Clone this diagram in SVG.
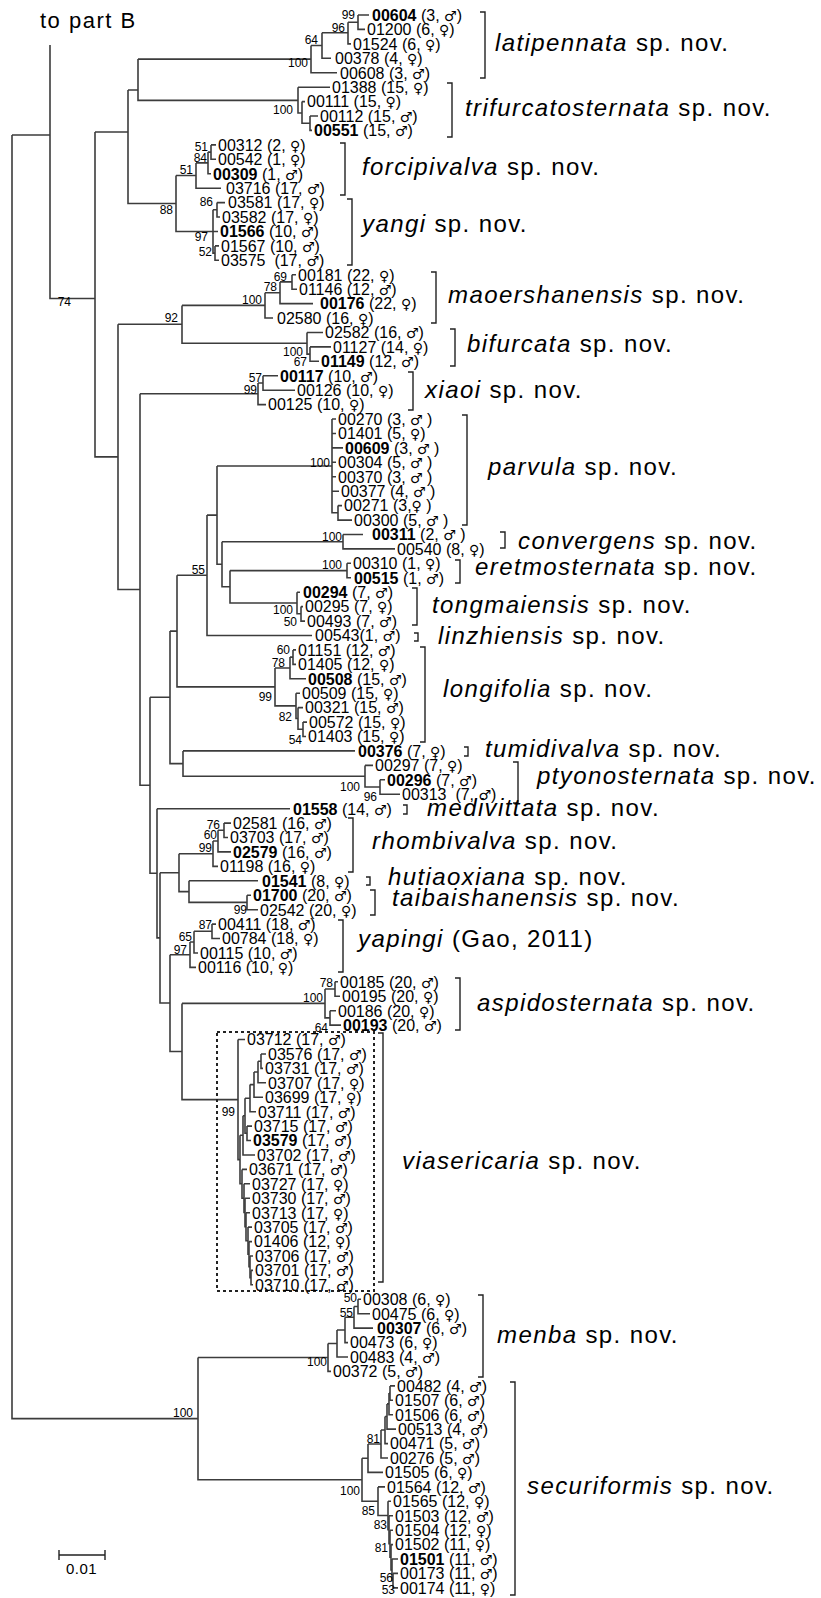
<svg xmlns="http://www.w3.org/2000/svg" width="821" height="1598" viewBox="0 0 821 1598">
<style>
.b{fill:none;stroke:#3c3c3c;stroke-width:1.6}
.br{fill:none;stroke:#222;stroke-width:1.4}
text{font-family:"Liberation Sans",Arial,sans-serif;fill:#000}
.t{font-size:16px}
.k{font-weight:bold}
.s{font-family:"DejaVu Sans",sans-serif;font-size:14px}
.bs{font-size:12px;text-anchor:end}
.sp{font-size:24px;letter-spacing:1.4px}
.i{font-style:italic}
.pre{white-space:pre}
</style>
<rect width="821" height="1598" fill="#fff"/>
<text x="40" y="28" style="font-size:22px;letter-spacing:1.5px">to part B</text>
<g id="connectors" class="b">
<path d="M12 135V1418.6H198M12 135H50"/>
<path d="M50 45V298.5H95"/>
<path d="M95 132V456.9H118M95 132H128"/>
<path d="M128 90V203.5H176M128 90H138"/>
<path d="M138 59.1V100.4H298M138 59.1H311"/>
<path d="M311 45.5V72.7H337M311 45.5H322"/>
<path d="M322 32.8V58.3H331M322 32.8H348"/>
<path d="M348 22.2V43.9H351M348 22.2H358"/>
<path d="M358 15V29.4H365M358 15H369"/>
<path d="M298 87.2V113H302M298 87.2H330"/>
<path d="M302 101.6V123.2H310M302 101.6H305"/>
<path d="M310 116V130.4H312M310 116H318"/>
<path d="M176 175.5V231.5H213M176 175.5H196"/>
<path d="M196 162.9V188.2H221M196 162.9H208"/>
<path d="M208 152.1V173.7H211M208 152.1H211"/>
<path d="M211 144.9V159.3H216M211 144.9H216"/>
<path d="M213 209.8V253.1H215M213 209.8H217M213 231.5H218"/>
<path d="M217 202.6V217H220M217 202.6H225"/>
<path d="M215 245.9V260.3H219M215 245.9H219"/>
<path d="M118 324.3V589.5H140M118 324.3H182"/>
<path d="M182 305.4V343.2H307M182 305.4H265"/>
<path d="M265 292.7V318H273M265 292.7H280"/>
<path d="M280 281.9V303.6H313M280 281.9H292"/>
<path d="M292 274.7V289.2H297M292 274.7H296"/>
<path d="M307 332.5V354.1H310M307 332.5H323"/>
<path d="M310 346.9V361.3H319M310 346.9H331"/>
<path d="M140 393.7V785.2H150M140 393.7H258"/>
<path d="M258 383V404.6H266M258 383H263"/>
<path d="M263 375.8V390.2H295M263 375.8H278"/>
<path d="M150 697.3V873.2H157M150 697.3H170"/>
<path d="M170 631.1V763.6H183M170 631.1H177"/>
<path d="M177 575.3V686.9H275M177 575.3H207"/>
<path d="M207 515.1V635.5H312M207 515.1H217"/>
<path d="M217 466V564.3H222M217 466H332"/>
<path d="M332 419V512.8H338M332 419H336M332 433.5H336M332 447.9H343M332 462.3H336M332 476.8H336M332 491.2H339"/>
<path d="M338 505.6V520.1H352M338 505.6H342"/>
<path d="M222 541.7V586.8H230M222 541.7H343"/>
<path d="M343 534.5V548.9H395M343 534.5H363"/>
<path d="M230 570.6V603H297M230 570.6H347"/>
<path d="M347 563.3V577.8H351M347 563.3H351"/>
<path d="M297 592.2V613.8H301M297 592.2H300"/>
<path d="M301 606.6V621.1H305M301 606.6H303"/>
<path d="M275 668V705.9H296M275 668H290"/>
<path d="M290 657.1V678.8H306M290 657.1H293"/>
<path d="M293 649.9V664.4H296M293 649.9H296"/>
<path d="M296 693.2V718.5H298M296 693.2H300"/>
<path d="M298 707.6V729.3H303M298 707.6H303"/>
<path d="M303 722.1V736.5H306M303 722.1H307"/>
<path d="M183 750.9V776.2H365M183 750.9H355"/>
<path d="M365 765.4V787H380M365 765.4H373"/>
<path d="M380 779.8V794.2H400M380 779.8H385"/>
<path d="M157 808.7V937.9H160M157 808.7H290"/>
<path d="M160 872.7V1003H170M160 872.7H179"/>
<path d="M179 853.7V891.6H189M179 853.7H213"/>
<path d="M213 841V866.4H218M213 841H218"/>
<path d="M218 830.3V851.9H231M218 830.3H224"/>
<path d="M224 823.1V837.5H228M224 823.1H231"/>
<path d="M189 880.8V902.4H247M189 880.8H258"/>
<path d="M247 895.2V909.7H258M247 895.2H251"/>
<path d="M170 954.7V1051.5H182M170 954.7H190"/>
<path d="M190 942V967.4H196M190 942H194"/>
<path d="M194 931.3V953H198M194 931.3H212"/>
<path d="M212 924.1V938.5H220M212 924.1H216"/>
<path d="M182 1003.4V1099.6H238M182 1003.4H325"/>
<path d="M325 989V1017.9H330M325 989H335"/>
<path d="M335 981.8V996.2H340M335 981.8H338"/>
<path d="M330 1010.7V1025.1H341M330 1010.7H336"/>
<path d="M238 1039.5V1159.6H240M238 1039.5H245"/>
<path d="M240 1135.3V1183.8H242M240 1135.3H243"/>
<path d="M243 1115.7V1155H255M243 1115.7H245"/>
<path d="M245 1098.2V1133.3H247M245 1098.2H250"/>
<path d="M247 1126.1V1140.5H251M247 1126.1H252"/>
<path d="M250 1084.6V1111.7H256M250 1084.6H254"/>
<path d="M254 1072V1097.3H263M254 1072H258"/>
<path d="M258 1061.2V1082.8H266M258 1061.2H261"/>
<path d="M261 1054V1068.4H263M261 1054H266"/>
<path d="M242 1169.4V1198.2H244M242 1169.4H247"/>
<path d="M244 1183.8V1212.5H245M244 1183.8H250"/>
<path d="M245 1198.3V1226.7H246M245 1198.3H250"/>
<path d="M246 1212.7V1240.7H248M246 1212.7H250"/>
<path d="M248 1227.1V1254.2H249M248 1227.1H252"/>
<path d="M249 1241.6V1266.8H250M249 1241.6H252"/>
<path d="M250 1256V1277.6H251M250 1256H253"/>
<path d="M251 1270.4V1284.8H253M251 1270.4H253"/>
<path d="M198 1357.5V1479.7H362M198 1357.5H328"/>
<path d="M328 1343.5V1371.4H331M328 1343.5H337"/>
<path d="M337 1330V1357H348M337 1330H345"/>
<path d="M345 1317.3V1342.6H348M345 1317.3H354"/>
<path d="M354 1306.5V1328.1H373M354 1306.5H358"/>
<path d="M358 1299.3V1313.7H370M358 1299.3H361"/>
<path d="M362 1458.2V1501.2H378M362 1458.2H368"/>
<path d="M368 1444V1472.4H383M368 1444H381"/>
<path d="M381 1430V1458H388M381 1430H385"/>
<path d="M385 1416.5V1443.6H388M385 1416.5H387"/>
<path d="M387 1403.9V1429.1H396M387 1403.9H389"/>
<path d="M389 1393.1V1414.7H393M389 1393.1H390"/>
<path d="M390 1385.9V1400.3H393M390 1385.9H395"/>
<path d="M378 1486.9V1515.5H388M378 1486.9H385"/>
<path d="M388 1501.3V1529.7H389M388 1501.3H391"/>
<path d="M389 1515.7V1543.7H390M389 1515.7H393"/>
<path d="M390 1530.2V1557.2H391M390 1530.2H393"/>
<path d="M391 1544.6V1569.9H392M391 1544.6H393"/>
<path d="M392 1559V1580.7H393M392 1559H398"/>
<path d="M393 1573.4V1587.9H398M393 1573.4H398"/>
</g>
<g id="bootstrap" class="bs">
<text class="bs" x="355" y="19">99</text>
<text class="bs" x="345" y="32">96</text>
<text class="bs" x="318" y="44">64</text>
<text class="bs" x="308" y="67">100</text>
<text class="bs" x="293" y="114">100</text>
<text class="bs" x="208" y="151">51</text>
<text class="bs" x="207" y="162">84</text>
<text class="bs" x="193" y="174">51</text>
<text class="bs" x="173" y="214">88</text>
<text class="bs" x="213" y="206">86</text>
<text class="bs" x="208" y="241">97</text>
<text class="bs" x="212" y="256">52</text>
<text class="bs" x="287" y="281">69</text>
<text class="bs" x="277" y="291">78</text>
<text class="bs" x="262" y="304">100</text>
<text class="bs" x="178" y="322">92</text>
<text class="bs" x="303" y="356">100</text>
<text class="bs" x="307" y="366">67</text>
<text class="bs" x="262" y="382">57</text>
<text class="bs" x="257" y="394">99</text>
<text class="bs" x="71" y="306">74</text>
<text class="bs" x="330" y="467">100</text>
<text class="bs" x="342" y="541">100</text>
<text class="bs" x="342" y="569">100</text>
<text class="bs" x="205" y="574">55</text>
<text class="bs" x="293" y="614">100</text>
<text class="bs" x="297" y="626">50</text>
<text class="bs" x="290" y="654">60</text>
<text class="bs" x="285" y="667">78</text>
<text class="bs" x="272" y="701">99</text>
<text class="bs" x="292" y="721">82</text>
<text class="bs" x="302" y="744">54</text>
<text class="bs" x="360" y="791">100</text>
<text class="bs" x="377" y="801">96</text>
<text class="bs" x="220" y="829">76</text>
<text class="bs" x="217" y="839">60</text>
<text class="bs" x="212" y="852">99</text>
<text class="bs" x="247" y="914">99</text>
<text class="bs" x="212" y="929">87</text>
<text class="bs" x="192" y="941">65</text>
<text class="bs" x="187" y="954">97</text>
<text class="bs" x="333" y="987">78</text>
<text class="bs" x="323" y="1002">100</text>
<text class="bs" x="328" y="1032">64</text>
<text class="bs" x="235" y="1116">99</text>
<text class="bs" x="357" y="1302">50</text>
<text class="bs" x="353" y="1317">55</text>
<text class="bs" x="327" y="1366">100</text>
<text class="bs" x="193" y="1417">100</text>
<text class="bs" x="380" y="1443">81</text>
<text class="bs" x="360" y="1495">100</text>
<text class="bs" x="375" y="1515">85</text>
<text class="bs" x="387" y="1529">83</text>
<text class="bs" x="388" y="1552">81</text>
<text class="bs" x="393" y="1582">56</text>
<text class="bs" x="395" y="1594">53</text>
</g>
<g id="latipennata">
<text class="t" x="372" y="20.8"><tspan class="k">00604</tspan> (3, <tspan class="s">♂</tspan>)</text>
<text class="t" x="367" y="35.2">01200 (6, <tspan class="s">♀</tspan>)</text>
<text class="t" x="353" y="49.7">01524 (6, <tspan class="s">♀</tspan>)</text>
<text class="t" x="335" y="64.1">00378 (4, <tspan class="s">♀</tspan>)</text>
<text class="t" x="340" y="78.5">00608 (3, <tspan class="s">♂</tspan>)</text>
<path class="br" d="M480 12H485V78H480"/>
<text class="sp" x="495" y="51"><tspan class="i">latipennata</tspan> sp. nov.</text>
</g>
<g id="trifurcatosternata">
<text class="t" x="332" y="93">01388 (15, <tspan class="s">♀</tspan>)</text>
<text class="t" x="307" y="107.4">00111 (15, <tspan class="s">♀</tspan>)</text>
<text class="t" x="320" y="121.8">00112 (15, <tspan class="s">♂</tspan>)</text>
<text class="t" x="314" y="136.2"><tspan class="k">00551</tspan> (15, <tspan class="s">♂</tspan>)</text>
<path class="br" d="M447 83H452V137H447"/>
<text class="sp" x="465" y="116"><tspan class="i">trifurcatosternata</tspan> sp. nov.</text>
</g>
<g id="forcipivalva">
<text class="t" x="218" y="150.7">00312 (2, <tspan class="s">♀</tspan>)</text>
<text class="t" x="218" y="165.1">00542 (1, <tspan class="s">♀</tspan>)</text>
<text class="t" x="213" y="179.5"><tspan class="k">00309</tspan> (1, <tspan class="s">♂</tspan>)</text>
<text class="t" x="226" y="194">03716 (17, <tspan class="s">♂</tspan>)</text>
<path class="br" d="M340 143H345V195H340"/>
<text class="sp" x="362" y="175"><tspan class="i">forcipivalva</tspan> sp. nov.</text>
</g>
<g id="yangi">
<text class="t" x="228" y="208.4">03581 (17, <tspan class="s">♀</tspan>)</text>
<text class="t" x="222" y="222.8">03582 (17, <tspan class="s">♀</tspan>)</text>
<text class="t" x="220" y="237.3"><tspan class="k">01566</tspan> (10, <tspan class="s">♂</tspan>)</text>
<text class="t" x="221" y="251.7">01567 (10, <tspan class="s">♂</tspan>)</text>
<text class="t pre" x="221" y="266.1">03575  (17, <tspan class="s">♂</tspan>)</text>
<path class="br" d="M347 199H352V265H347"/>
<text class="sp" x="362" y="232"><tspan class="i">yangi</tspan> sp. nov.</text>
</g>
<g id="maoershanensis">
<text class="t" x="298" y="280.5">00181 (22, <tspan class="s">♀</tspan>)</text>
<text class="t" x="299" y="295">01146 (12, <tspan class="s">♂</tspan>)</text>
<text class="t" x="320" y="309.4"><tspan class="k">00176</tspan> (22, <tspan class="s">♀</tspan>)</text>
<text class="t" x="277" y="323.8">02580 (16, <tspan class="s">♀</tspan>)</text>
<path class="br" d="M431 272H436V323H431"/>
<text class="sp" x="448" y="303"><tspan class="i">maoershanensis</tspan> sp. nov.</text>
</g>
<g id="bifurcata">
<text class="t" x="325" y="338.3">02582 (16, <tspan class="s">♂</tspan>)</text>
<text class="t" x="333" y="352.7">01127 (14, <tspan class="s">♀</tspan>)</text>
<text class="t" x="321" y="367.1"><tspan class="k">01149</tspan> (12, <tspan class="s">♂</tspan>)</text>
<path class="br" d="M450 329H455V366H450"/>
<text class="sp" x="467" y="352"><tspan class="i">bifurcata</tspan> sp. nov.</text>
</g>
<g id="xiaoi">
<text class="t" x="280" y="381.6"><tspan class="k">00117</tspan> (10, <tspan class="s">♂</tspan>)</text>
<text class="t" x="297" y="396">00126 (10, <tspan class="s">♀</tspan>)</text>
<text class="t" x="268" y="410.4">00125 (10, <tspan class="s">♀</tspan>)</text>
<path class="br" d="M408 372H413V410H408"/>
<text class="sp" x="425" y="398"><tspan class="i">xiaoi</tspan> sp. nov.</text>
</g>
<g id="parvula">
<text class="t" x="338" y="424.8">00270 (3, <tspan class="s">♂</tspan> )</text>
<text class="t" x="338" y="439.3">01401 (5, <tspan class="s">♀</tspan>)</text>
<text class="t" x="345" y="453.7"><tspan class="k">00609</tspan> (3, <tspan class="s">♂</tspan> )</text>
<text class="t" x="338" y="468.1">00304 (5, <tspan class="s">♂</tspan> )</text>
<text class="t" x="338" y="482.6">00370 (3, <tspan class="s">♂</tspan> )</text>
<text class="t" x="341" y="497">00377 (4, <tspan class="s">♂</tspan> )</text>
<text class="t" x="344" y="511.4">00271 (3,<tspan class="s">♀</tspan> )</text>
<text class="t" x="354" y="525.9">00300 (5, <tspan class="s">♂</tspan> )</text>
<path class="br" d="M462 415H467V525H462"/>
<text class="sp" x="488" y="475"><tspan class="i">parvula</tspan> sp. nov.</text>
</g>
<g id="convergens">
<text class="t" x="372" y="540.3"><tspan class="k">00311</tspan> (2, <tspan class="s">♂</tspan> )</text>
<text class="t" x="397" y="554.7">00540 (8, <tspan class="s">♀</tspan>)</text>
<path class="br" d="M500 532H505V548H500"/>
<text class="sp" x="518" y="549"><tspan class="i">convergens</tspan> sp. nov.</text>
</g>
<g id="eretmosternata">
<text class="t" x="353" y="569.1">00310 (1, <tspan class="s">♀</tspan>)</text>
<text class="t" x="354" y="583.6"><tspan class="k">00515</tspan> (1, <tspan class="s">♂</tspan>)</text>
<path class="br" d="M455 560H460V583H455"/>
<text class="sp" x="475" y="575"><tspan class="i">eretmosternata</tspan> sp. nov.</text>
</g>
<g id="tongmaiensis">
<text class="t" x="303" y="598"><tspan class="k">00294</tspan> (7, <tspan class="s">♂</tspan>)</text>
<text class="t" x="305" y="612.4">00295 (7, <tspan class="s">♀</tspan>)</text>
<text class="t" x="307" y="626.9">00493 (7, <tspan class="s">♂</tspan>)</text>
<path class="br" d="M412 588H417V625H412"/>
<text class="sp" x="432" y="613"><tspan class="i">tongmaiensis</tspan> sp. nov.</text>
</g>
<g id="linzhiensis">
<text class="t" x="315" y="641.3">00543(1, <tspan class="s">♂</tspan>)</text>
<path class="br" d="M414 633H418V641H414"/>
<text class="sp" x="438" y="644"><tspan class="i">linzhiensis</tspan> sp. nov.</text>
</g>
<g id="longifolia">
<text class="t" x="298" y="655.7">01151 (12, <tspan class="s">♂</tspan>)</text>
<text class="t" x="298" y="670.2">01405 (12, <tspan class="s">♀</tspan>)</text>
<text class="t" x="308" y="684.6"><tspan class="k">00508</tspan> (15, <tspan class="s">♂</tspan>)</text>
<text class="t" x="302" y="699">00509 (15, <tspan class="s">♀</tspan>)</text>
<text class="t" x="305" y="713.4">00321 (15, <tspan class="s">♂</tspan>)</text>
<text class="t" x="309" y="727.9">00572 (15, <tspan class="s">♀</tspan>)</text>
<text class="t" x="308" y="742.3">01403 (15, <tspan class="s">♀</tspan>)</text>
<path class="br" d="M420 647H425V742H420"/>
<text class="sp" x="443" y="697"><tspan class="i">longifolia</tspan> sp. nov.</text>
</g>
<g id="tumidivalva">
<text class="t" x="358" y="756.7"><tspan class="k">00376</tspan> (7, <tspan class="s">♀</tspan>)</text>
<path class="br" d="M464 747H468V756H464"/>
<text class="sp" x="485" y="757"><tspan class="i">tumidivalva</tspan> sp. nov.</text>
</g>
<g id="ptyonosternata">
<text class="t" x="375" y="771.2">00297 (7, <tspan class="s">♀</tspan>)</text>
<text class="t" x="387" y="785.6"><tspan class="k">00296</tspan> (7, <tspan class="s">♂</tspan>)</text>
<text class="t pre" x="402" y="800">00313  (7, <tspan class="s">♂</tspan>)</text>
<path class="br" d="M513 762H518V803H513"/>
<text class="sp" x="537" y="784"><tspan class="i">ptyonosternata</tspan> sp. nov.</text>
</g>
<g id="medivittata">
<text class="t" x="293" y="814.5"><tspan class="k">01558</tspan> (14, <tspan class="s">♂</tspan>)</text>
<path class="br" d="M403 805H407V814H403"/>
<text class="sp" x="427" y="816"><tspan class="i">medivittata</tspan> sp. nov.</text>
</g>
<g id="rhombivalva">
<text class="t" x="233" y="828.9">02581 (16, <tspan class="s">♂</tspan>)</text>
<text class="t" x="230" y="843.3">03703 (17, <tspan class="s">♂</tspan>)</text>
<text class="t" x="233" y="857.7"><tspan class="k">02579</tspan> (16, <tspan class="s">♂</tspan>)</text>
<text class="t" x="220" y="872.2">01198 (16, <tspan class="s">♀</tspan>)</text>
<path class="br" d="M348 818H353V872H348"/>
<text class="sp" x="372" y="849"><tspan class="i">rhombivalva</tspan> sp. nov.</text>
</g>
<g id="hutiaoxiana">
<text class="t" x="262" y="886.6"><tspan class="k">01541</tspan> (8, <tspan class="s">♀</tspan>)</text>
<path class="br" d="M366 877H370V885H366"/>
<text class="sp" x="388" y="885"><tspan class="i">hutiaoxiana</tspan> sp. nov.</text>
</g>
<g id="taibaishanensis">
<text class="t" x="253" y="901"><tspan class="k">01700</tspan> (20, <tspan class="s">♂</tspan>)</text>
<text class="t" x="260" y="915.5">02542 (20, <tspan class="s">♀</tspan>)</text>
<path class="br" d="M370 890H375V915H370"/>
<text class="sp" x="392" y="906"><tspan class="i">taibaishanensis</tspan> sp. nov.</text>
</g>
<g id="yapingi">
<text class="t" x="218" y="929.9">00411 (18, <tspan class="s">♂</tspan>)</text>
<text class="t" x="222" y="944.3">00784 (18, <tspan class="s">♀</tspan>)</text>
<text class="t" x="200" y="958.8">00115 (10, <tspan class="s">♂</tspan>)</text>
<text class="t" x="198" y="973.2">00116 (10, <tspan class="s">♀</tspan>)</text>
<path class="br" d="M338 920H343V972H338"/>
<text class="sp" x="358" y="947"><tspan class="i">yapingi</tspan> (Gao, 2011)</text>
</g>
<g id="aspidosternata">
<text class="t" x="340" y="987.6">00185 (20, <tspan class="s">♂</tspan>)</text>
<text class="t" x="342" y="1002">00195 (20, <tspan class="s">♀</tspan>)</text>
<text class="t" x="338" y="1016.5">00186 (20, <tspan class="s">♀</tspan>)</text>
<text class="t" x="343" y="1030.9"><tspan class="k">00193</tspan> (20, <tspan class="s">♂</tspan>)</text>
<path class="br" d="M455 978H460V1030H455"/>
<text class="sp" x="477" y="1011"><tspan class="i">aspidosternata</tspan> sp. nov.</text>
</g>
<g id="viasericaria">
<rect x="217" y="1032" width="157" height="259" fill="none" stroke="#222" stroke-width="2" stroke-dasharray="3 3"/>
<text class="t" x="247" y="1045.3">03712 (17, <tspan class="s">♂</tspan>)</text>
<text class="t" x="268" y="1059.8">03576 (17, <tspan class="s">♂</tspan>)</text>
<text class="t" x="265" y="1074.2">03731 (17, <tspan class="s">♂</tspan>)</text>
<text class="t" x="268" y="1088.6">03707 (17, <tspan class="s">♀</tspan>)</text>
<text class="t" x="265" y="1103.1">03699 (17, <tspan class="s">♀</tspan>)</text>
<text class="t" x="258" y="1117.5">03711 (17, <tspan class="s">♂</tspan>)</text>
<text class="t" x="254" y="1131.9">03715 (17, <tspan class="s">♂</tspan>)</text>
<text class="t" x="253" y="1146.3"><tspan class="k">03579</tspan> (17, <tspan class="s">♂</tspan>)</text>
<text class="t" x="257" y="1160.8">03702 (17, <tspan class="s">♂</tspan>)</text>
<text class="t" x="249" y="1175.2">03671 (17, <tspan class="s">♂</tspan>)</text>
<text class="t" x="252" y="1189.6">03727 (17, <tspan class="s">♀</tspan>)</text>
<text class="t" x="252" y="1204.1">03730 (17, <tspan class="s">♂</tspan>)</text>
<text class="t" x="252" y="1218.5">03713 (17, <tspan class="s">♀</tspan>)</text>
<text class="t" x="254" y="1232.9">03705 (17, <tspan class="s">♂</tspan>)</text>
<text class="t" x="254" y="1247.4">01406 (12, <tspan class="s">♀</tspan>)</text>
<text class="t" x="255" y="1261.8">03706 (17, <tspan class="s">♂</tspan>)</text>
<text class="t" x="255" y="1276.2">03701 (17, <tspan class="s">♂</tspan>)</text>
<text class="t" x="255" y="1290.6">03710 (17, <tspan class="s">♂</tspan>)</text>
<path class="br" d="M378 1033H383V1282H378"/>
<text class="sp" x="402" y="1169"><tspan class="i">viasericaria</tspan> sp. nov.</text>
</g>
<g id="menba">
<text class="t" x="363" y="1305.1">00308 (6, <tspan class="s">♀</tspan>)</text>
<text class="t" x="372" y="1319.5">00475 (6, <tspan class="s">♀</tspan>)</text>
<text class="t" x="377" y="1333.9"><tspan class="k">00307</tspan> (6, <tspan class="s">♂</tspan>)</text>
<text class="t" x="350" y="1348.4">00473 (6, <tspan class="s">♀</tspan>)</text>
<text class="t" x="350" y="1362.8">00483 (4, <tspan class="s">♂</tspan>)</text>
<text class="t" x="333" y="1377.2">00372 (5, <tspan class="s">♂</tspan>)</text>
<path class="br" d="M478 1295H483V1377H478"/>
<text class="sp" x="497" y="1343"><tspan class="i">menba</tspan> sp. nov.</text>
</g>
<g id="securiformis">
<text class="t" x="397" y="1391.7">00482 (4, <tspan class="s">♂</tspan>)</text>
<text class="t" x="395" y="1406.1">01507 (6, <tspan class="s">♂</tspan>)</text>
<text class="t" x="395" y="1420.5">01506 (6, <tspan class="s">♂</tspan>)</text>
<text class="t" x="398" y="1434.9">00513 (4, <tspan class="s">♂</tspan>)</text>
<text class="t" x="390" y="1449.4">00471 (5, <tspan class="s">♂</tspan>)</text>
<text class="t" x="390" y="1463.8">00276 (5, <tspan class="s">♂</tspan>)</text>
<text class="t" x="385" y="1478.2">01505 (6, <tspan class="s">♀</tspan>)</text>
<text class="t" x="387" y="1492.7">01564 (12, <tspan class="s">♂</tspan>)</text>
<text class="t" x="393" y="1507.1">01565 (12, <tspan class="s">♀</tspan>)</text>
<text class="t" x="395" y="1521.5">01503 (12, <tspan class="s">♂</tspan>)</text>
<text class="t" x="395" y="1536">01504 (12, <tspan class="s">♀</tspan>)</text>
<text class="t" x="395" y="1550.4">01502 (11, <tspan class="s">♀</tspan>)</text>
<text class="t" x="400" y="1564.8"><tspan class="k">01501</tspan> (11, <tspan class="s">♂</tspan>)</text>
<text class="t" x="400" y="1579.2">00173 (11, <tspan class="s">♂</tspan>)</text>
<text class="t" x="400" y="1593.7">00174 (11, <tspan class="s">♀</tspan>)</text>
<path class="br" d="M510 1382H515V1595H510"/>
<text class="sp" x="527" y="1494"><tspan class="i">securiformis</tspan> sp. nov.</text>
</g>
<g id="scalebar">
<path class="br" d="M59 1555H105M59 1550V1560M105 1550V1560"/>
<text x="66" y="1574" style="font-size:15px;letter-spacing:0.5px">0.01</text>
</g>
</svg>
